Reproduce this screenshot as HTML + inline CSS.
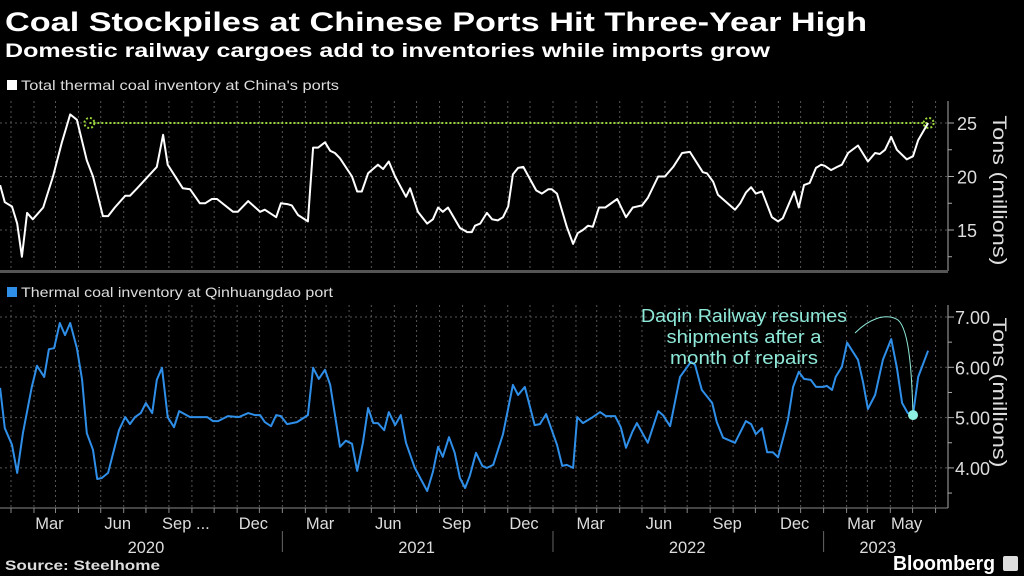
<!DOCTYPE html>
<html><head><meta charset="utf-8"><style>
body{margin:0;background:#000;width:1024px;height:576px;overflow:hidden;font-family:"Liberation Sans",sans-serif;color:#fff}
svg{position:absolute;left:0;top:0}
</style></head><body>
<svg width="1024" height="576" id="c" font-family="Liberation Sans, sans-serif">
<text x="5" y="31" font-size="27" font-weight="bold" fill="#fff" textLength="862" lengthAdjust="spacingAndGlyphs">Coal Stockpiles at Chinese Ports Hit Three-Year High</text>
<text x="5" y="57" font-size="19" font-weight="bold" fill="#fff" textLength="765" lengthAdjust="spacingAndGlyphs">Domestic railway cargoes add to inventories while imports grow</text>
<rect x="7" y="80" width="10" height="10" fill="#fff"/>
<text x="21" y="90" font-size="14" fill="#ddd" textLength="318" lengthAdjust="spacingAndGlyphs">Total thermal coal inventory at China's ports</text>
<rect x="7" y="287" width="10" height="10" fill="#2f8fe8"/>
<text x="21" y="297" font-size="14" fill="#ddd" textLength="312" lengthAdjust="spacingAndGlyphs">Thermal coal inventory at Qinhuangdao port</text>
<text x="5" y="570" font-size="14" font-weight="bold" fill="#ddd" textLength="155" lengthAdjust="spacingAndGlyphs">Source: Steelhome</text>
<text x="893" y="570" font-size="20" font-weight="bold" fill="#fff" textLength="102" lengthAdjust="spacingAndGlyphs">Bloomberg</text>
<rect x="1003" y="556" width="15" height="15" rx="2" fill="#ddd"/>
<g id="g"></g>
</svg>
<script>
const topWeeks=[-2.1,-1.2,0.2,1.2,2.1,3.1,4.2,6.2,8.1,9.8,11.4,12.7,14.6,15.8,17.7,18.7,20.0,22.0,22.9,24.3,26.2,28.1,29.3,30.2,33.1,34.5,36.4,37.4,38.7,39.7,42.8,43.7,45.7,48.0,48.9,51.1,52.0,53.4,54.1,55.3,57.2,58.2,59.2,60.5,61.5,62.4,63.4,65.7,66.7,67.6,68.8,70.7,71.7,72.8,74.0,76.1,76.9,78.4,80.2,81.3,82.3,83.2,84.2,86.5,87.9,88.8,89.4,90.4,91.7,92.7,93.8,94.8,95.8,96.7,97.7,98.7,101.2,102.3,103.5,104.2,105.2,107.1,108.3,109.2,110.2,111.2,112.1,113.3,114.5,116.8,118.5,119.8,121.6,122.7,124.7,126.0,127.6,129.3,130.8,133.3,134.1,135.3,136.2,139.5,140.5,141.6,142.6,143.5,144.7,146.6,147.8,148.7,150.9,151.8,152.8,153.9,155.1,156.1,156.8,158.0,159.2,160.1,161.3,163.2,165.1,166.5,167.4,168.4,169.6,170.7,172.6,173.8,174.8,176.7];
const topValues=[19.2,17.6,17.2,15.6,12.5,16.6,16.0,17.1,20.0,23.2,25.8,25.3,21.5,20.0,16.3,16.3,17.1,18.2,18.2,18.9,19.9,20.9,23.9,21.1,18.9,18.8,17.5,17.5,17.9,17.9,16.7,16.7,17.7,16.7,16.9,16.2,17.5,17.4,17.3,16.4,15.8,22.7,22.7,23.2,22.4,22.2,21.7,20.0,18.6,18.6,20.3,21.1,20.7,21.4,20.0,18.1,18.9,16.7,15.6,16.0,17.1,16.7,17.1,15.2,14.8,14.8,15.4,15.6,16.6,16.0,15.9,16.2,17.2,20.2,20.8,20.9,18.7,18.4,18.8,18.8,18.4,15.3,13.7,14.7,15.0,15.4,15.3,17.1,17.1,17.9,16.2,17.1,17.3,18.0,20.0,20.0,20.9,22.2,22.3,20.4,20.3,19.5,18.3,16.9,17.5,18.5,19.0,18.4,18.6,16.2,15.8,16.1,18.6,17.1,19.2,19.4,20.8,21.1,21.0,20.6,20.9,21.1,22.2,22.9,21.4,22.2,22.1,22.5,23.7,22.5,21.6,21.9,23.4,25.0];
const botWeeks=[-2.1,-1.2,0.2,1.2,2.3,4.0,5.0,6.4,7.3,8.3,9.4,10.4,11.4,12.7,13.7,14.6,15.8,16.6,17.5,18.7,20.8,22.0,22.9,23.9,25.0,26.0,27.2,28.1,29.1,30.2,31.4,32.4,34.5,37.8,38.9,39.9,41.8,43.9,45.7,47.0,48.0,48.9,50.1,51.1,52.0,53.2,55.1,57.2,58.2,59.3,60.5,61.5,63.4,64.5,65.7,66.7,67.8,68.8,69.8,70.7,71.9,72.8,74.0,75.1,76.1,77.8,80.2,81.3,82.3,83.2,84.4,85.5,86.5,87.5,88.4,89.6,90.8,91.7,92.9,94.8,96.7,97.7,99.0,100.9,101.9,103.1,105.2,106.2,107.1,108.3,109.1,110.2,112.1,113.5,114.6,116.4,117.5,118.5,119.7,120.6,122.7,124.7,125.6,127.0,128.9,131.0,131.8,133.1,135.1,136.0,137.2,139.5,141.6,142.6,143.5,144.7,145.7,146.8,147.8,149.7,150.7,151.8,152.8,154.1,155.1,156.5,157.2,158.2,158.9,160.1,161.1,163.2,164.2,165.1,166.5,168.0,169.6,170.7,171.7,172.8,173.8,174.8,176.7];
const botValues=[5.59,4.79,4.46,3.90,4.69,5.61,6.03,5.81,6.36,6.38,6.88,6.64,6.88,6.38,5.75,4.69,4.36,3.78,3.80,3.90,4.75,5.01,4.87,5.01,5.09,5.29,5.09,5.75,5.99,5.01,4.81,5.13,5.01,5.01,4.93,4.93,5.03,5.01,5.09,5.05,5.05,4.91,4.83,5.05,5.03,4.87,4.91,5.05,5.99,5.77,5.95,5.65,4.42,4.54,4.48,3.94,4.50,5.19,4.89,4.89,4.75,5.11,4.85,5.05,4.50,4.00,3.54,3.92,4.42,4.22,4.61,4.30,3.80,3.60,3.84,4.30,4.04,4.00,4.06,4.67,5.65,5.45,5.61,4.85,4.87,5.07,4.46,4.04,4.06,4.00,5.01,4.89,5.01,5.11,5.03,5.03,4.81,4.40,4.71,4.89,4.50,5.13,5.05,4.83,5.81,6.11,6.05,5.55,5.29,4.91,4.60,4.50,4.93,4.87,4.67,4.79,4.31,4.31,4.21,4.95,5.61,5.91,5.77,5.75,5.61,5.61,5.63,5.55,5.81,6.01,6.49,6.15,5.69,5.17,5.45,6.15,6.56,5.99,5.29,5.09,5.05,5.81,6.33];
const topTicks=[25,20,15];
const botTicks=["7.00","6.00","5.00","4.00"];
const monthLabels=["Mar","Jun","Sep ...","Dec","Mar","Jun","Sep","Dec","Mar","Jun","Sep","Dec","Mar","May"];
const yearLabels=["2020","2021","2022","2023"];
const highValue=25, highStartWeek=15.1, markerWeek=173.8, markerValue=5.05;

const NS="http://www.w3.org/2000/svg", g=document.getElementById('g');
const xs=w=>11+w*5.19;
const yt=v=>123+(25-v)*10.7;
const yb=v=>317+(7-v)*50.3;
function mk(t,a){const e=document.createElementNS(NS,t);for(const k in a)e.setAttribute(k,a[k]);g.appendChild(e);return e;}
const base=Date.UTC(2020,0,1);
const labelMonths=[[2020,2],[2020,5],[2020,8],[2020,11],[2021,2],[2021,5],[2021,8],[2021,11],[2022,2],[2022,5],[2022,8],[2022,11],[2023,2],[2023,4]];
for(let y=2020;y<=2023;y++)for(let m=0;m<12;m++){
 if(y===2023&&m>5)break;
 const w=(Date.UTC(y,m,1)-base)/864e5/7, x=xs(w);
 if(x>945)continue;
 let e=mk('line',{x1:x,x2:x,y1:101,y2:271,stroke:'#555','stroke-dasharray':'2,3'});
 
 e=mk('line',{x1:x,x2:x,y1:305,y2:508,stroke:'#555','stroke-dasharray':'2,3'});
 
 e=mk('line',{x1:x,x2:x,y1:508,y2:513,stroke:'#888'});
 
}
labelMonths.forEach((ym,i)=>{const w=(Date.UTC(ym[0],ym[1],1)-base)/864e5/7;
 const e=mk('text',{x:xs(w)-6,y:529,'font-size':16.5,fill:'#ddd','text-anchor':'middle'});e.textContent=monthLabels[i];
 });
const yearCenters=[[2020,6,1],[2021,6,1],[2022,6,1],[2023,2,15]];
yearLabels.forEach((t,i)=>{const c=yearCenters[i];const w=(Date.UTC(c[0],c[1],c[2])-base)/864e5/7;
 const e=mk('text',{x:xs(w),y:553,'font-size':16.5,fill:'#ddd','text-anchor':'middle'});e.textContent=t;
 
 if(i>0){const x=xs((Date.UTC(c[0],0,1)-base)/864e5/7);const s=mk('line',{x1:x,x2:x,y1:531,y2:552,stroke:'#666'});
 }});
topTicks.forEach(v=>{let e=mk('line',{x1:0,x2:948,y1:yt(v),y2:yt(v),stroke:'#555','stroke-dasharray':'2,3'});
 
 e=mk('line',{x1:948,x2:954,y1:yt(v),y2:yt(v),stroke:'#aaa'});
 e=mk('line',{x1:948,x2:952,y1:yt(v-2.5),y2:yt(v-2.5),stroke:'#aaa'});
 e=mk('text',{x:957,y:yt(v)+7,'font-size':18,fill:'#ddd'});e.textContent=v;});
botTicks.forEach(t=>{const v=parseFloat(t);let e=mk('line',{x1:0,x2:948,y1:yb(v),y2:yb(v),stroke:'#555','stroke-dasharray':'2,3'});
 
 e=mk('line',{x1:948,x2:954,y1:yb(v),y2:yb(v),stroke:'#aaa'});
 e=mk('line',{x1:948,x2:952,y1:yb(v-0.5),y2:yb(v-0.5),stroke:'#aaa'});
 e=mk('text',{x:955,y:yb(v)+7,'font-size':18,fill:'#ddd'});e.textContent=t;});
[[101,271],[305,508]].forEach(r=>{const e=mk('line',{x1:948,x2:948,y1:r[0],y2:r[1],stroke:'#aaa'});});
let e=mk('rect',{x:0,y:270,width:948,height:3,fill:'#555'});
e=mk('line',{x1:0,x2:948,y1:508,y2:508,stroke:'#888'});
[[yt(18.7)],[yb(5.5)]].forEach(c=>{const t=mk('text',{x:0,y:0,'font-size':19,fill:'#ddd','text-anchor':'middle',textLength:150,lengthAdjust:'spacingAndGlyphs',transform:`translate(993,${c[0]}) rotate(90)`});t.textContent='Tons (millions)';
 });
e=mk('line',{x1:xs(highStartWeek),x2:xs(markerWeek+3),y1:yt(highValue),y2:yt(highValue),stroke:'#9bd63a','stroke-width':2,'stroke-dasharray':'2,2'});

[xs(highStartWeek),xs(markerWeek+3)].forEach(x=>{const c=mk('circle',{cx:x,cy:yt(highValue),r:5,fill:'none',stroke:'#9bd63a','stroke-width':2,'stroke-dasharray':'2,2'});
 });
const path=(W,V,y)=>W.map((w,i)=>(i?'L':'M')+xs(w).toFixed(1)+','+y(V[i]).toFixed(1)).join('');
e=mk('path',{d:path(topWeeks,topValues,yt),fill:'none',stroke:'#fff','stroke-width':2,'stroke-linejoin':'round'});

e=mk('path',{d:path(botWeeks,botValues,yb),fill:'none',stroke:'#2f8fe8','stroke-width':2,'stroke-linejoin':'round'});

const mx=xs(markerWeek), my=yb(markerValue);
e=mk('path',{d:`M855,333 C868,320 885,312 898,320 C910,330 912,380 ${mx},${my}`,fill:'none',stroke:'#8ee8d8','stroke-width':1});

e=mk('circle',{cx:mx,cy:my,r:5,fill:'#8ef0e0'});
[["Daqin Railway resumes",206],["shipments after a",155],["month of repairs",148]].forEach((t,i)=>{const a=mk('text',{x:744,y:322+i*21,'font-size':18,fill:'#8ee8d8','text-anchor':'middle',textLength:t[1],lengthAdjust:'spacingAndGlyphs'});a.textContent=t[0];
 });
</script>
</body></html>
